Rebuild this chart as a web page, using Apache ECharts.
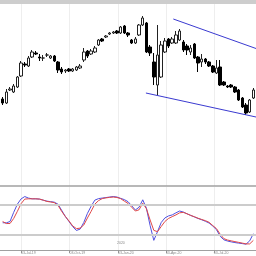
<!DOCTYPE html>
<html><head><meta charset="utf-8">
<script src="https://cdn.jsdelivr.net/npm/echarts@6/dist/echarts.min.js"></script>
<style>html,body{margin:0;padding:0;background:#fff}#c{width:256px;height:256px}</style>
</head><body><div id="c"></div>
<script>
const dates = [
 '2019-05-29','2019-06-05','2019-06-12','2019-06-19','2019-06-26','2019-07-03','2019-07-10','2019-07-17','2019-07-24','2019-07-31',
 '2019-08-07','2019-08-14','2019-08-21','2019-08-28','2019-09-04','2019-09-11','2019-09-18','2019-09-25','2019-10-02','2019-10-09',
 '2019-10-16','2019-10-23','2019-10-30','2019-11-06','2019-11-13','2019-11-20','2019-11-27','2019-12-04','2019-12-11','2019-12-18',
 '2019-12-25','2020-01-01','2020-01-08','2020-01-15','2020-01-22','2020-01-29','2020-02-05','2020-02-12','2020-02-19','2020-02-26',
 '2020-03-04','2020-03-11','2020-03-18','2020-03-25','2020-04-01','2020-04-08','2020-04-15','2020-04-22','2020-04-29','2020-05-06',
 '2020-05-13','2020-05-20','2020-05-27','2020-06-03','2020-06-10','2020-06-17','2020-06-24','2020-07-01','2020-07-08','2020-07-15',
 '2020-07-22','2020-07-29','2020-08-05','2020-08-12','2020-08-19','2020-08-26','2020-09-02','2020-09-09','2020-09-16'];
const openP = [38.7,38.3,39.6,39.4,39.9,41.0,42.2,42.0,42.9,43.3,
 42.9,42.8,43.1,42.8,43.0,42.4,41.7,41.5,41.7,41.5,
 41.6,41.8,42.6,43.5,43.2,43.4,44.1,44.7,44.9,45.2,
 45.3,45.5,45.3,46.0,45.3,44.6,44.3,45.1,46.1,46.3,
 43.9,42.4,40.1,40.9,43.4,44.7,44.3,44.3,44.6,44.4,
 44.0,43.4,44.2,42.9,42.4,42.7,42.4,42.0,41.3,41.9,
 40.4,40.0,40.1,39.9,39.6,38.8,38.1,37.4,38.8];
const closeP = [38.3,39.4,39.7,40.0,40.9,42.3,42.1,42.8,43.4,43.2,
 42.8,42.8,43.1,43.0,42.5,41.6,41.4,41.6,41.5,41.7,
 41.9,42.0,43.4,43.0,43.5,43.8,44.6,44.5,45.0,45.3,
 45.4,45.3,45.9,45.3,45.1,44.3,44.7,46.1,46.8,43.4,
 43.3,40.9,43.1,44.1,44.5,44.0,44.7,45.1,45.5,43.6,
 43.6,43.8,42.8,42.3,42.7,42.4,42.0,41.4,41.8,40.1,
 40.1,39.9,39.9,39.4,38.6,37.9,37.3,38.6,39.6];
const lowP = [38.1,38.2,39.5,39.3,39.8,40.9,41.9,41.9,42.8,43.1,
 42.5,42.5,42.9,42.7,42.4,41.3,41.2,41.3,41.4,41.4,
 41.5,41.7,42.4,42.8,43.1,43.3,44.0,44.4,44.8,45.1,
 45.2,45.2,45.2,45.2,44.9,44.2,44.2,45.0,46.0,43.3,
 43.0,40.1,39.1,40.8,43.3,43.8,44.2,44.2,44.5,43.4,
 43.1,43.1,42.7,41.4,41.9,42.2,41.9,41.3,41.2,40.0,
 40.0,39.8,39.8,39.3,38.5,37.8,37.1,37.3,38.7];
const highP = [38.9,39.7,39.9,40.2,41.0,42.5,42.4,43.0,43.6,43.5,
 43.2,43.1,43.3,43.1,43.1,42.5,41.9,41.7,41.8,41.8,
 42.0,42.2,43.8,43.6,43.7,44.0,44.7,44.8,45.1,45.4,
 45.5,45.6,46.0,46.1,45.4,44.7,44.9,46.2,47.0,46.4,
 44.1,43.3,46.1,44.5,44.8,44.8,44.9,45.5,45.7,44.6,
 44.2,44.1,44.3,43.0,43.2,42.8,42.5,42.1,42.6,42.6,
 40.5,40.1,40.2,40.0,39.7,38.9,38.3,38.7,39.8];
const stochK = [44.4,44.2,46.9,65.5,82.1,92.8,97.6,94.5,93.0,93.0,
 92.4,90.3,88.3,87.2,86.2,82.1,69.7,57.2,46.9,36.6,
 28.7,31.4,44.8,63.4,77.9,90.3,93.4,94.5,95.5,96.6,
 97.6,96.6,93.9,91.4,87.2,78.9,70.3,75.9,91.0,73.8,
 38.6,8.6,26.2,44.8,54.1,58.3,60.3,64.5,68.2,66.1,
 62.6,59.3,56.2,53.1,50.4,47.3,43.8,37.6,30.3,16.9,
 9.7,7.2,5.5,4.1,3.0,2.0,0.8,7.6,22.1];
const stochD = [46.9,42.8,42.8,53.1,67.6,83.1,92.4,93.0,93.0,93.0,
 92.4,90.3,87.7,86.6,85.2,80.0,67.6,57.2,47.9,38.0,
 32.4,33.4,39.7,54.1,67.6,82.1,89.3,93.4,94.9,95.9,
 96.6,95.7,93.4,88.3,83.7,75.9,68.2,70.7,84.1,72.8,
 50.0,28.9,26.2,36.6,46.9,53.1,56.8,60.3,64.5,65.5,
 62.6,59.3,56.6,53.5,51.0,48.6,45.2,38.6,32.4,21.0,
 12.1,9.2,7.6,6.0,4.5,3.0,1.4,1.4,8.6];
const tickDates = ['2019-07-03','2019-10-03','2020-01-03','2020-04-03','2020-07-03'];
const tickLabels = ['03-Jul-19','03-Oct-19','03-Jan-20','03-Apr-20','03-Jul-20'];
const upperTrend = [['2020-04-17', 46.7], ['2020-09-21', 43.75]];
const lowerTrend = [['2020-02-25', 39.3], ['2020-09-21', 36.9]];
const stochLevels = [80, 20];
const axisStart = '2019-05-24', axisEnd = '2020-09-21';

function ts(s){const p=s.split('-').map(Number);return Date.UTC(p[0],p[1]-1,p[2]);}
const tickTs = tickDates.map(ts);
const candles = dates.map((d,i)=>[ts(d), openP[i], closeP[i], lowP[i], highP[i]]);
const kData = dates.map((d,i)=>[ts(d), stochK[i]]);
const dData = dates.map((d,i)=>[ts(d), stochD[i]]);

const chart = echarts.init(document.getElementById('c'), null, {renderer:'canvas'});
const xCommon = {type:'value', min: ts(axisStart), max: ts(axisEnd), scale:true};
chart.setOption({
  animation:false,
  backgroundColor:'#fff',
  grid:[{left:0,right:0,top:4,height:182},{left:0,right:0,top:187,height:63}],
  xAxis:[
    Object.assign({gridIndex:0,
      axisLine:{show:true,onZero:false,lineStyle:{color:'#a0a0a0',width:1.5}},
      axisTick:{show:false,customValues:tickTs},
      axisLabel:{show:false,customValues:tickTs},
      splitLine:{show:true,lineStyle:{color:'#eeeeee',width:1}}}, xCommon),
    Object.assign({gridIndex:1,
      axisLine:{show:true,onZero:false,lineStyle:{color:'#a0a0a0',width:1}},
      axisTick:{show:true,customValues:tickTs,length:3,lineStyle:{color:'#999'}},
      axisLabel:{show:true,customValues:tickTs,fontSize:3.5,color:'#888',align:'left',margin:1,
        formatter:function(v){const k=tickTs.indexOf(v);return k>=0?tickLabels[k]:'';}},
      splitLine:{show:true,lineStyle:{color:'#eeeeee',width:1}}}, xCommon)
  ],
  yAxis:[
    {gridIndex:0,type:'value',min:30,max:48.2,show:false},
    {gridIndex:1,type:'value',min:-11,max:117,show:false}
  ],
  graphic:[
    {type:'rect',shape:{x:0,y:0,width:256,height:4},style:{fill:'#cdcdcd'},z:100},
    {type:'text',x:117,y:241,style:{text:'2020',fontSize:3.5,fill:'#888'},z:100}
  ],
  series:[
    {type:'candlestick',xAxisIndex:0,yAxisIndex:0,data:candles,barWidth:3,
      itemStyle:{color:'#ffffff',color0:'#000000',borderColor:'#222222',borderColor0:'#000000',borderWidth:1},
      markLine:{silent:true,symbol:'none',label:{show:false},
        lineStyle:{color:'#3a3ad0',width:1,type:'solid'},
        data:[
          [{coord:[ts(upperTrend[0][0]),upperTrend[0][1]]},{coord:[ts(upperTrend[1][0]),upperTrend[1][1]]}],
          [{coord:[ts(lowerTrend[0][0]),lowerTrend[0][1]]},{coord:[ts(lowerTrend[1][0]),lowerTrend[1][1]]}]
        ]}},
    {type:'line',xAxisIndex:1,yAxisIndex:1,data:kData,showSymbol:false,
      lineStyle:{color:'#5050e0',width:1},
      markLine:{silent:true,symbol:'none',label:{show:false},
        lineStyle:{color:'#cccccc',width:2,type:'solid'},
        data:stochLevels.map(v=>({yAxis:v}))}},
    {type:'line',xAxisIndex:1,yAxisIndex:1,data:dData,showSymbol:false,
      lineStyle:{color:'#e04848',width:1}}
  ]
});
</script></body></html>
